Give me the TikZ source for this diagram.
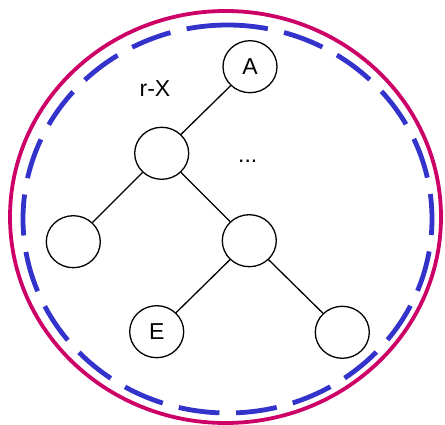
\documentclass[tikz,border=0pt]{standalone}
\usepackage{fontspec}
\setmainfont{Liberation Sans}
\usetikzlibrary{shapes.geometric}
\definecolor{ringred}{RGB}{204,0,102}
\definecolor{ringblue}{RGB}{51,51,204}
\tikzset{
  treenode/.style={ellipse, draw=black, line width=1.3pt, fill=white,
    minimum width=54pt, minimum height=52pt, inner sep=0pt,
    font=\fontsize{23}{27}\selectfont},
  treeedge/.style={draw=black, line width=1.3pt},
  lbl/.style={font=\fontsize{23}{27}\selectfont, inner sep=0pt}
}
\begin{document}
\begin{tikzpicture}[x=1pt,y=-1pt]
\useasboundingbox (0,0) rectangle (445,425);
\draw[ringred, line width=3.8pt] (225.5,217) ellipse [x radius=215.5pt, y radius=206pt];
\draw[ringblue, line width=4.8pt, dash pattern=on 41.1pt off 16.6pt]
  (227.5,25) arc [start angle=90, end angle=450, x radius=204.5pt, y radius=194pt];
\node[treenode] (a) at (250,66.7) {A};
\node[treenode] (b) at (161.7,153.3) {};
\node[treenode] (l) at (73.3,241.7) {};
\node[treenode] (m) at (249.3,240.7) {};
\node[treenode] (e) at (156.7,331.7) {E};
\node[treenode] (r) at (342.3,332.3) {};
\node[lbl] (rx) at (155,88.3) {r-X};
\node[lbl, anchor=base] (dots) at (247.7,163) {...};
\path[treeedge] (a) -- (b);
\path[treeedge] (b) -- (l);
\path[treeedge] (b) -- (m);
\path[treeedge] (m) -- (e);
\path[treeedge] (m) -- (r);
\end{tikzpicture}
\end{document}
